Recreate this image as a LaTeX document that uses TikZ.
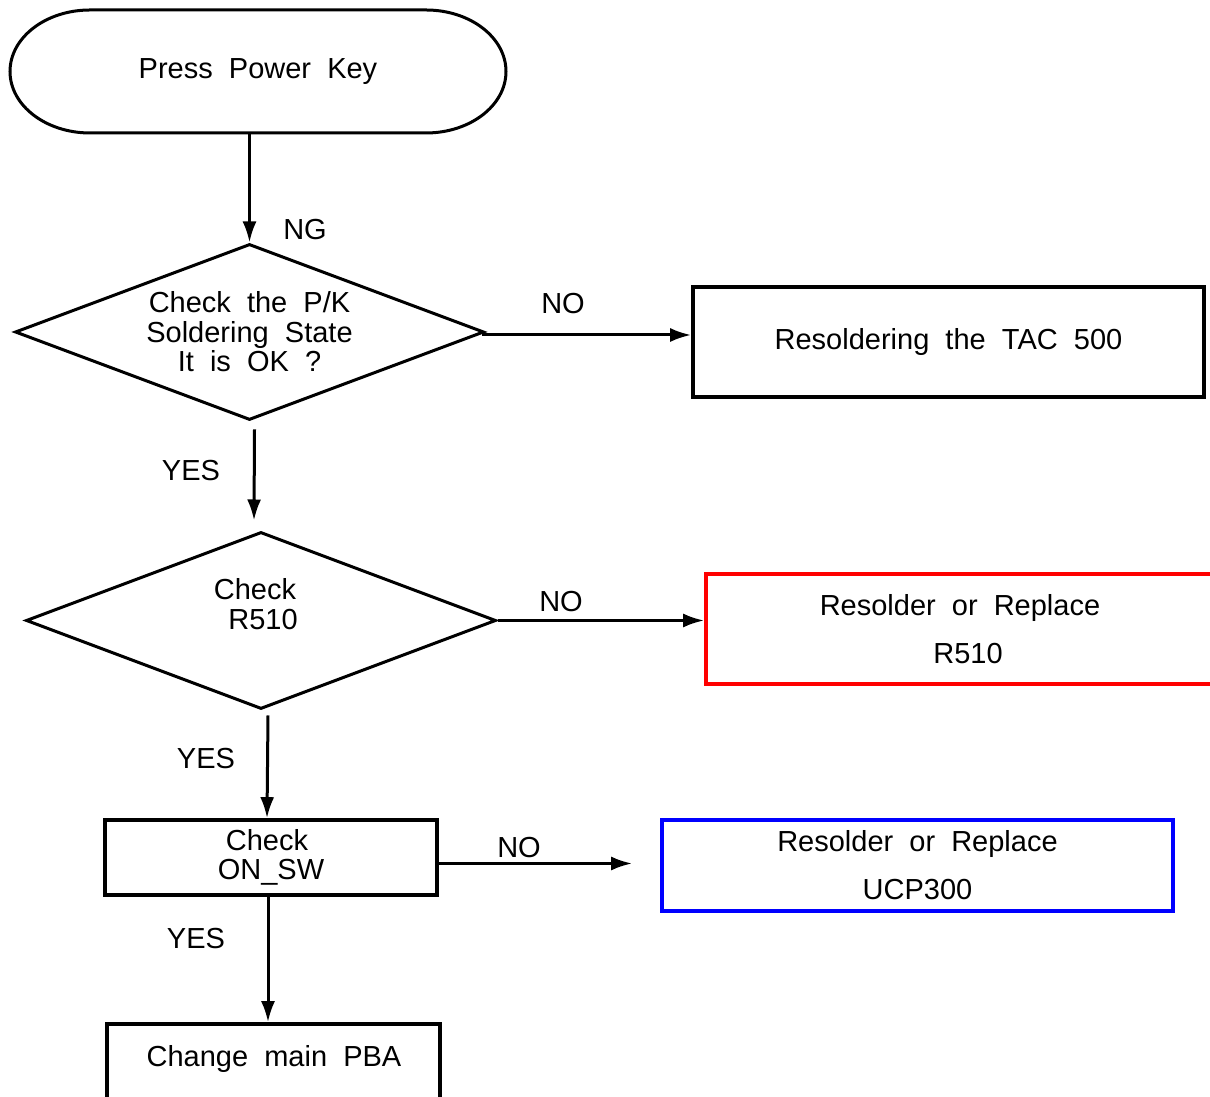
\documentclass[tikz,border=0pt]{standalone}
\usepackage{fontspec}
\setmainfont{Liberation Sans}
\usetikzlibrary{arrows.meta,shapes.geometric,calc}
\begin{document}
\begin{tikzpicture}[x=1pt,y=1pt,
  txt/.style={font=\fontsize{29}{29.5}\selectfont, inner sep=0pt, align=center},
  twoline/.style={font=\fontsize{29}{48}\selectfont},
  arr/.style={line width=3pt, -{Latex[length=21pt,width=14pt]}},
  dia/.style={draw, diamond, line width=3pt, inner sep=0pt, shape aspect=2.66, txt},
  boxn/.style={draw, rectangle, line width=3.6pt, inner sep=0pt, txt},
]
\useasboundingbox (0,0) rectangle (1210,1097);
\clip (0,0) rectangle (1210,1097);

% terminal
\draw[line width=3pt] (90,1087) -- (426,1087)
  arc[start angle=90, end angle=-90, x radius=80pt, y radius=61.5pt]
  -- (90,964)
  arc[start angle=270, end angle=90, x radius=80pt, y radius=61.5pt] -- cycle;
\node[txt, minimum width=496pt, minimum height=123pt] (start) at (258,1025.5) {Press~~Power~~Key};

% decision 1
\node[dia, minimum width=469pt, minimum height=176pt] (d1) at (249.5,765)
  {Check~~the~~P/K\\Soldering~~State\\It~~is~~OK~~?};
\node[boxn, minimum width=511pt, minimum height=110pt] (b1) at (948.5,755) {Resoldering~~the~~TAC~~500};

% decision 2
\node[dia, minimum width=470pt, minimum height=177pt] (d2) at (261,476.5) {};
\node[txt] (d2t) at (255,493) {Check\\~~R510};
\node[boxn, draw=red, minimum width=508pt, minimum height=110pt, twoline] (b2) at (960,468)
  {Resolder~~or~~Replace\\~~R510};

% check ON_SW
\node[boxn, minimum width=332pt, minimum height=75pt] (b3) at (271,239.5) {Check~~\\ON\_SW};
\node[boxn, draw=blue, minimum width=511pt, minimum height=91pt, twoline] (b4) at (917.5,231.5)
  {Resolder~~or~~Replace\\UCP300};

% final
\node[boxn, minimum width=333pt, minimum height=150pt] (b5) at (273.5,-2) {};
\node[txt] (b5t) at (274,38) {Change~~main~~PBA};

% connector end points
\coordinate (c1a) at ($(d1.south)+(5,-8)$);
\coordinate (c1b) at ($(d2.north)+(-7,10)$);
\coordinate (c2a) at ($(d2.south)+(7,-5)$);
\coordinate (c2b) at ($(b3.north)+(-4,0)$);
\coordinate (c3a) at ($(b3.east)+(0,-6)$);
\coordinate (c3b) at ($(c3a -| b4.west)+(-28,0)$);
\coordinate (c4a) at ($(b3.south)+(-3,0)$);

% connectors
\draw[arr] (d1.north |- start.south) -- (d1.north);
\draw[arr] ($(d1.east)+(-4,-3)$) -- ($(d1.east -| b1.west)+(0,-3)$);
\draw[arr] (c1a) -- (c1b);
\draw[arr] (d2.east) -- (d2.east -| b2.west);
\draw[arr] (c2a) -- (c2b);
\draw[arr] (c3a) -- (c3b);
\draw[arr] (c4a) -- (c4a |- b5.north);

% labels
\node[txt] (lng) at (305,867) {NG};
\node[txt] (lno1) at (563,793) {NO};
\node[txt] (lyes1) at (191,626) {YES};
\node[txt] (lno2) at (561,495) {NO};
\node[txt] (lyes2) at (206,338) {YES};
\node[txt] (lno3) at (519,249) {NO};
\node[txt] (lyes3) at (196,158) {YES};
\end{tikzpicture}
\end{document}
